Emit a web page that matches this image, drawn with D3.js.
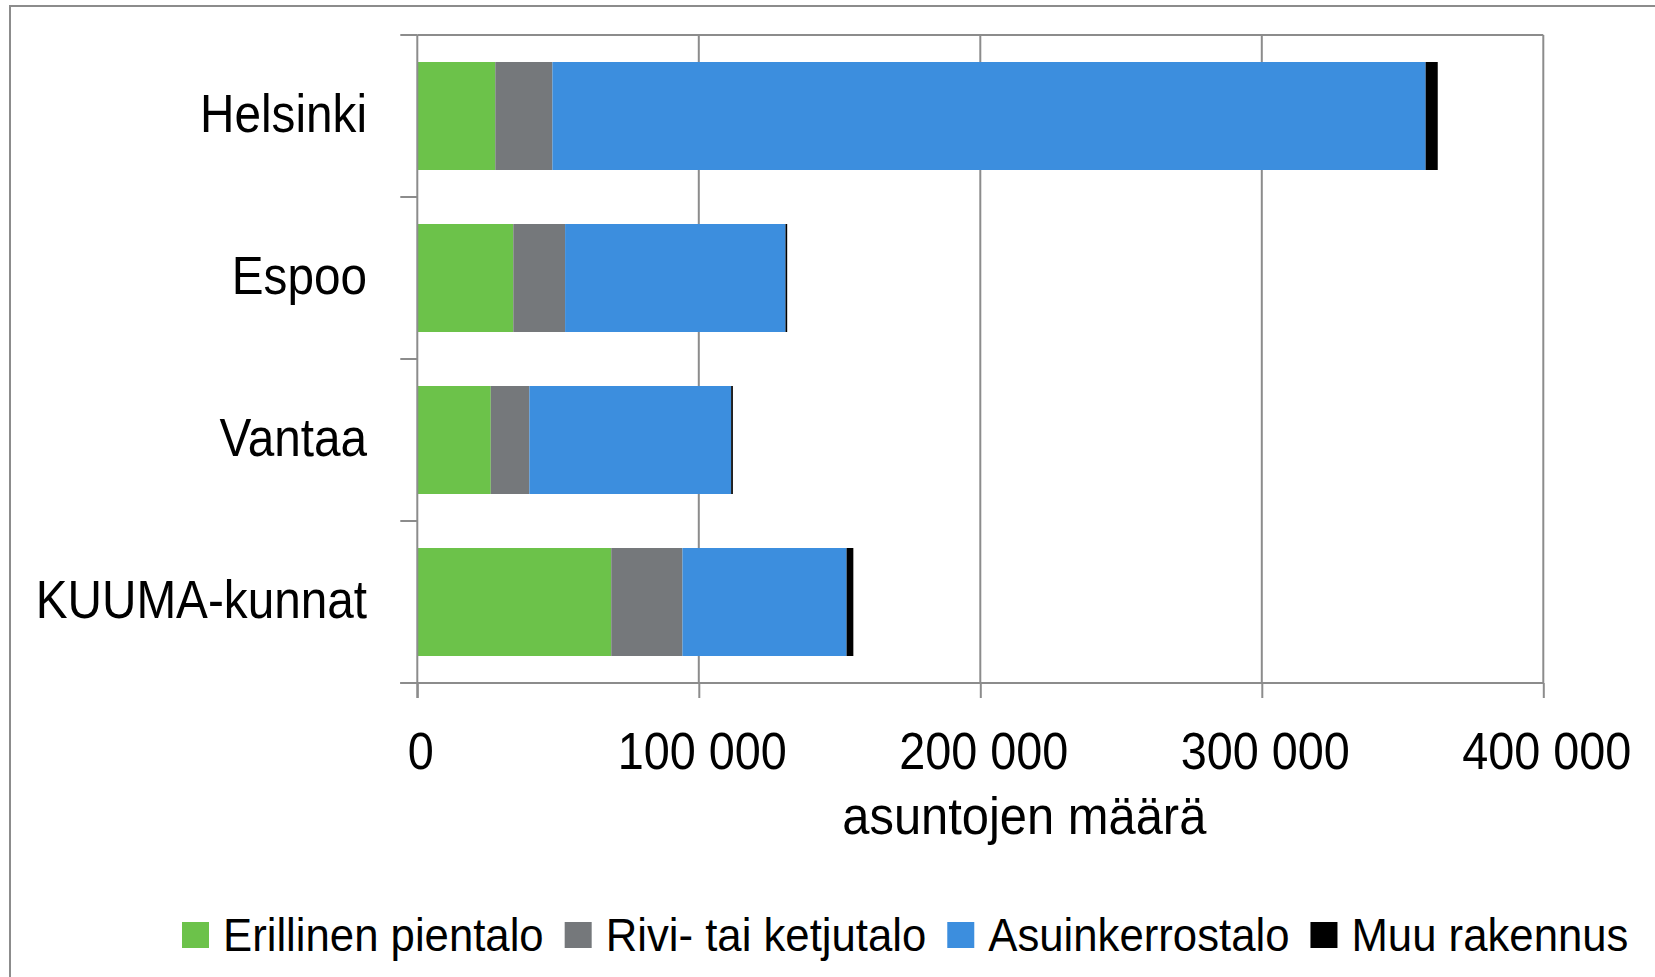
<!DOCTYPE html>
<html>
<head>
<meta charset="utf-8">
<script src="https://cdn.jsdelivr.net/npm/d3@7"></script>
<style>
  html, body { margin: 0; padding: 0; background: #fff; }
  svg { display: block; }
  text { font-family: "Liberation Sans", Arial, sans-serif; fill: #000; }
</style>
</head>
<body>
<svg id="chart" width="1655" height="977"></svg>
<script>
// ---- data ----
const categories = ["Helsinki", "Espoo", "Vantaa", "KUUMA-kunnat"];
const seriesNames = ["Erillinen pientalo", "Rivi- tai ketjutalo", "Asuinkerrostalo", "Muu rakennus"];
const erillinen = [27700, 34100, 26100, 68900];
const rivi      = [20300, 18400, 13700, 25300];
const kerros    = [310200, 78300, 71700, 58300];
const muu       = [4300, 600, 600, 2400];
const xTicks = [0, 100000, 200000, 300000, 400000];
const xTitle = "asuntojen määrä";
const colors = ["#6cc24a", "#75787b", "#3c8ede", "#000000"];

// ---- layout ----
const W = 1655, H = 977;
const plot = { left: 417.3, right: 1543.3, top: 35, bottom: 683 };
const axisColor = "#8c8c8c";

const svg = d3.select("#chart");

// outer chart frame (extends past canvas right/bottom)
svg.append("rect")
  .attr("x", 10).attr("y", 6)
  .attr("width", W + 20).attr("height", H + 20)
  .attr("fill", "none").attr("stroke", axisColor).attr("stroke-width", 2);

const x = d3.scaleLinear().domain([0, 400000]).range([plot.left, plot.right]);
const y = d3.scaleBand().domain(categories).range([plot.top, plot.bottom])
  .paddingInner(1 / 3).paddingOuter(1 / 6);

// gridlines
svg.append("g").selectAll("line")
  .data(xTicks.slice(1))
  .join("line")
  .attr("x1", d => x(d)).attr("x2", d => x(d))
  .attr("y1", plot.top).attr("y2", plot.bottom)
  .attr("stroke", axisColor).attr("stroke-width", 2);

// top border of plot area
svg.append("line")
  .attr("x1", plot.left).attr("x2", plot.right)
  .attr("y1", plot.top).attr("y2", plot.top)
  .attr("stroke", axisColor).attr("stroke-width", 2);

// stacked data
const rows = categories.map((c, i) => ({
  cat: c,
  [seriesNames[0]]: erillinen[i],
  [seriesNames[1]]: rivi[i],
  [seriesNames[2]]: kerros[i],
  [seriesNames[3]]: muu[i]
}));
const stacked = d3.stack().keys(seriesNames)(rows);

svg.append("g").selectAll("g")
  .data(stacked)
  .join("g")
  .attr("fill", (d, i) => colors[i])
  .selectAll("rect")
  .data(d => d)
  .join("rect")
  .attr("x", d => x(d[0]))
  .attr("width", d => Math.max(0, x(d[1]) - x(d[0])))
  .attr("y", d => y(d.data.cat))
  .attr("height", y.bandwidth());

// y axis: line + ticks at band boundaries
const bounds = categories.map(c => y(c) - y.step() * y.paddingInner() / 2);
bounds.push(plot.bottom);
svg.append("line")
  .attr("x1", plot.left).attr("x2", plot.left)
  .attr("y1", plot.top).attr("y2", plot.bottom + 15)
  .attr("stroke", axisColor).attr("stroke-width", 2);
svg.append("g").selectAll("line")
  .data(bounds)
  .join("line")
  .attr("x1", plot.left - 17).attr("x2", plot.left)
  .attr("y1", d => d).attr("y2", d => d)
  .attr("stroke", axisColor).attr("stroke-width", 2);

// category labels (horizontally condensed)
svg.append("g").selectAll("text")
  .data(categories)
  .join("text")
  .attr("transform", d => `translate(367,${y(d) + y.bandwidth() / 2 + 16}) scale(0.9,1)`)
  .attr("text-anchor", "end")
  .attr("font-size", 53)
  .text(d => d);

// x axis
const xAxis = d3.axisBottom(x)
  .tickValues(xTicks)
  .tickSize(15)
  .tickSizeOuter(0)
  .tickPadding(30)
  .tickFormat(d => d3.format(",")(d).replace(/,/g, " "));
const gx = svg.append("g")
  .attr("transform", `translate(0,${plot.bottom})`)
  .call(xAxis);
gx.select(".domain").attr("stroke", axisColor).attr("stroke-width", 2)
  .attr("d", `M${plot.left - 17},0H${plot.right}`);
gx.selectAll(".tick line").attr("stroke", axisColor).attr("stroke-width", 2);
gx.selectAll(".tick text")
  .attr("font-size", 52)
  .attr("fill", "#000")
  .attr("dy", null)
  .attr("y", null)
  .attr("transform", "translate(3,86) scale(0.9,1)")
  .attr("font-family", null);

// axis title
svg.append("text")
  .attr("transform", `translate(${(plot.left + plot.right) / 2 + 44},834) scale(0.94,1)`)
  .attr("text-anchor", "middle")
  .attr("font-size", 52)
  .text(xTitle);

// legend
const legend = svg.append("g");
const lsx = 0.93;
let lx = 182;
seriesNames.forEach((name, i) => {
  legend.append("rect")
    .attr("x", lx).attr("y", 922)
    .attr("width", 27).attr("height", 26)
    .attr("fill", colors[i]);
  const t = legend.append("text")
    .attr("transform", `translate(${lx + 41},951) scale(${lsx},1)`)
    .attr("font-size", 47)
    .text(name);
  lx += 41 + t.node().getComputedTextLength() * lsx + 21;
});
</script>
</body>
</html>
